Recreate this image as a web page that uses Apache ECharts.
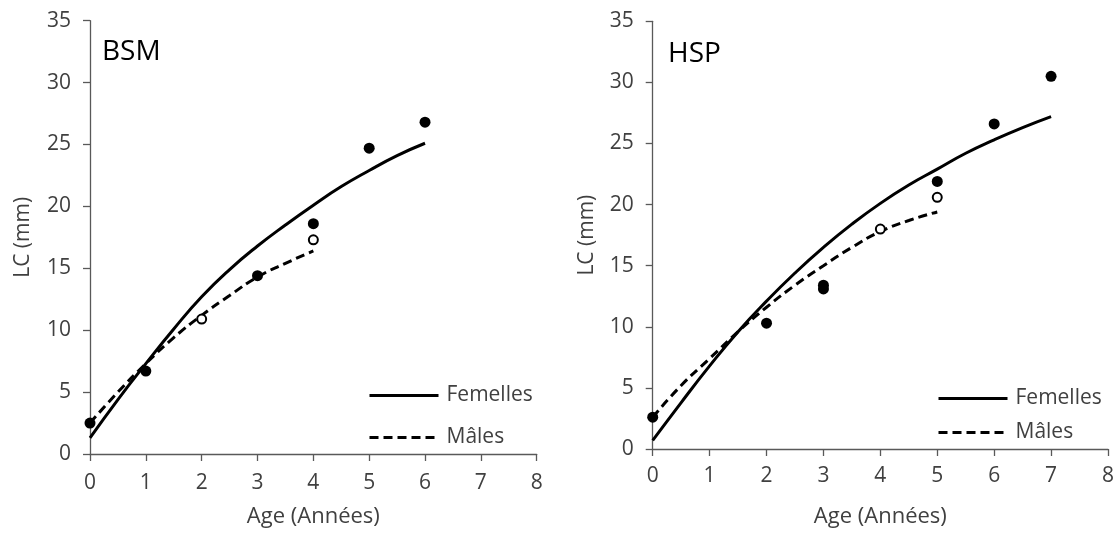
<!DOCTYPE html>
<html>
<head>
<meta charset="utf-8">
<script src="https://cdn.jsdelivr.net/npm/echarts@6/dist/echarts.min.js"></script>
<style>
html,body{margin:0;padding:0;background:#fff;}
#chart{width:1117px;height:533px;}
</style>
</head>
<body>
<div id="chart"></div>
<script>
// Panel titles and axis text
const panelTitles = ['BSM', 'HSP'];
const xAxisName = 'Age (Années)';
const yAxisName = 'LC (mm)';
const seriesNames = ['Femelles', 'Mâles'];

// Fitted curves: [age, LC]
const bsmFemelles = [[0,1.3],[0.5,4.4],[1,7.3],[1.5,10.1],[2,12.7],[2.5,14.9],[3,16.8],[3.5,18.5],[4,20.1],[4.5,21.6],[5,22.9],[5.5,24.1],[6,25.1]];
const bsmMales = [[0,2.5],[0.5,5.0],[1,7.3],[1.5,9.4],[2,11.2],[2.5,12.8],[3,14.3],[3.5,15.4],[4,16.4]];
const hspFemelles = [[0,0.7],[0.5,3.8],[1,6.8],[1.5,9.6],[2,12.1],[2.5,14.4],[3,16.5],[3.5,18.4],[4,20.1],[4.5,21.6],[5,22.9],[5.5,24.2],[6,25.3],[6.5,26.3],[7,27.2]];
const hspMales = [[0,2.6],[0.5,5.2],[1,7.4],[1.5,9.6],[2,11.6],[2.5,13.4],[3,15.0],[3.5,16.5],[4,17.8],[4.5,18.7],[5,19.4]];

// Observed points: filled and open circles
const bsmFilled = [[0,2.5],[1,6.7],[3,14.4],[4,18.6],[5,24.7],[6,26.8]];
const bsmOpen = [[2,10.9],[4,17.3]];
const hspFilled = [[0,2.6],[2,10.3],[3,13.4],[3,13.1],[5,21.9],[6,26.6],[7,30.5]];
const hspOpen = [[4,18.0],[5,20.6]];

const FONT = '"Open Sans", "Noto Sans", sans-serif';
const axisColor = '#595959';
const textColor = '#404040';
const DASH = [9, 5];

const chart = echarts.init(document.getElementById('chart'));

function xAx(i, gap, margin) {
  return {
    type: 'value', gridIndex: i, min: 0, max: 8, interval: 1,
    name: xAxisName, nameLocation: 'middle', nameGap: gap,
    nameTextStyle: {fontFamily: FONT, fontSize: 22, color: textColor},
    axisLine: {show: true, onZero: false, lineStyle: {color: axisColor, width: 1.3}},
    axisTick: {show: true, length: 7, lineStyle: {color: axisColor, width: 1.3}},
    axisLabel: {fontFamily: FONT, fontSize: 21, color: textColor, margin: margin},
    splitLine: {show: false}
  };
}
function yAx(i, gap) {
  return {
    type: 'value', gridIndex: i, min: 0, max: 35, interval: 5,
    name: yAxisName, nameLocation: 'middle', nameGap: gap, nameRotate: 90,
    nameTextStyle: {fontFamily: FONT, fontSize: 21, color: textColor},
    axisLine: {show: true, lineStyle: {color: axisColor, width: 1.3}},
    axisTick: {show: true, length: 7, lineStyle: {color: axisColor, width: 1.3}},
    axisLabel: {fontFamily: FONT, fontSize: 21, color: textColor, margin: 19},
    splitLine: {show: false}
  };
}
function curve(name, data, i, dashed) {
  return {
    name: name, type: 'line', xAxisIndex: i, yAxisIndex: i, data: data,
    smooth: 0.5, symbol: 'none', showSymbol: false, silent: true,
    lineStyle: {color: '#000', width: 3, type: dashed ? DASH : 'solid'},
    itemStyle: {color: '#000'}, z: 2
  };
}
function pts(data, i, open) {
  return {
    type: 'scatter', xAxisIndex: i, yAxisIndex: i, data: data, symbol: 'circle',
    symbolSize: open ? 9 : 11, silent: true,
    itemStyle: open ? {color: '#fff', borderColor: '#000', borderWidth: 2, opacity: 1} : {color: '#000', opacity: 1},
    z: 3
  };
}
function legendAt(left, top, gap) {
  return {
    orient: 'vertical', left: left, top: top, itemWidth: 69, itemHeight: 14, itemGap: gap,
    data: [
      {name: seriesNames[0], lineStyle: {width: 3, color: '#000', type: 'solid'}},
      {name: seriesNames[1], lineStyle: {width: 3, color: '#000', type: DASH}}
    ],
    selectedMode: false,
    itemStyle: {opacity: 0, borderWidth: 0},
    textStyle: {fontFamily: FONT, fontSize: 21, color: textColor, padding: [0, 0, 0, 3]}
  };
}

chart.setOption({
  animation: false,
  backgroundColor: '#fff',
  grid: [
    {left: 90, top: 20.7, width: 446.7, height: 436},
    {left: 652.7, top: 21.3, width: 459, height: 429.4}
  ],
  title: [
    {text: panelTitles[0], left: 97, top: 33, textStyle: {fontFamily: FONT, fontSize: 28, fontWeight: 'normal', color: '#000'}},
    {text: panelTitles[1], left: 663, top: 35, textStyle: {fontFamily: FONT, fontSize: 28, fontWeight: 'normal', color: '#000'}}
  ],
  legend: [legendAt(363, 380, 21), legendAt(932, 383, 13)],
  xAxis: [xAx(0, 52, 19), xAx(1, 57, 17)],
  yAxis: [yAx(0, 56), yAx(1, 55)],
  series: [
    curve(seriesNames[0], bsmFemelles, 0, false),
    curve(seriesNames[1], bsmMales, 0, true),
    pts(bsmFilled, 0, false),
    pts(bsmOpen, 0, true),
    curve(seriesNames[0], hspFemelles, 1, false),
    curve(seriesNames[1], hspMales, 1, true),
    pts(hspFilled, 1, false),
    pts(hspOpen, 1, true)
  ]
});
</script>
</body>
</html>
